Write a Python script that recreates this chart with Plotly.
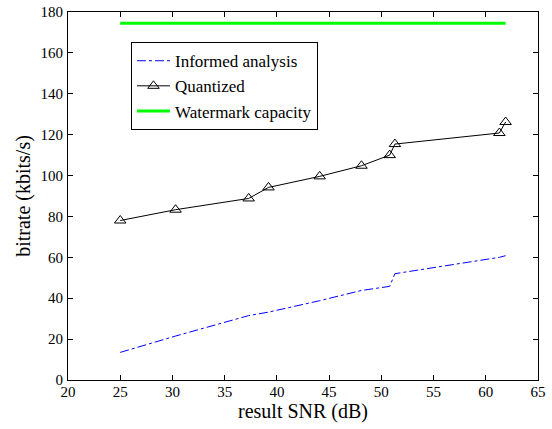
import plotly.graph_objects as go

snr = [25.0, 30.3, 37.3, 39.2, 44.1, 48.1, 50.8, 51.3, 61.3, 61.9]
quantized = [78.0, 83.3, 88.8, 94.2, 99.6, 104.8, 110.0, 115.4, 120.8, 126.2]
informed = [13.5, 21.5, 31.5, 33.2, 38.8, 43.8, 45.8, 52.0, 60.0, 60.8]
capacity_x = [25.0, 61.9]
capacity_y = [174.5, 174.5]

font = "Liberation Serif, Times New Roman, serif"

fig = go.Figure()
fig.add_trace(go.Scatter(x=snr, y=informed, mode="lines", name="Informed analysis",
                         line=dict(color="#0000ff", width=1, dash="dashdot")))
fig.add_trace(go.Scatter(x=snr, y=quantized, mode="lines+markers", name="Quantized",
                         line=dict(color="black", width=1),
                         marker=dict(symbol="triangle-up-open", size=10, color="black", line=dict(width=1))))
fig.add_trace(go.Scatter(x=capacity_x, y=capacity_y, mode="lines", name="Watermark capacity",
                         line=dict(color="#00ff00", width=3)))

axis_common = dict(showgrid=False, zeroline=False, showline=True, linecolor="black", linewidth=1,
                   mirror="ticks", ticks="inside", ticklen=5, tickcolor="black", automargin=False,
                   ticklabeloverflow="allow",
                   tickfont=dict(family=font, size=15, color="black"))
fig.update_xaxes(range=[20, 65], dtick=5, tick0=20, ticklabelstandoff=-2,
                 title=dict(text="result SNR (dB)", font=dict(family=font, size=20, color="black"), standoff=0),
                 **axis_common)
fig.update_yaxes(range=[0, 180], dtick=20, tick0=0, ticklabelstandoff=1,
                 title=dict(text="bitrate (kbits/s)", font=dict(family=font, size=20, color="black"), standoff=4),
                 **axis_common)

fig.update_layout(
    width=552, height=429,
    margin=dict(l=68, r=14, t=12, b=49),
    paper_bgcolor="white", plot_bgcolor="white",
    font=dict(family=font, color="black"),
    legend=dict(x=0.134, y=0.918, xanchor="left", yanchor="top",
                bordercolor="black", borderwidth=1, bgcolor="white",
                font=dict(family=font, size=17, color="black"), itemwidth=33),
    showlegend=True,
)

# remove the page's default 8px body margin so the figure sits at the window origin
fig.write_html("out.html", config={"displayModeBar": False},
               post_script="document.body.style.margin='0';")
